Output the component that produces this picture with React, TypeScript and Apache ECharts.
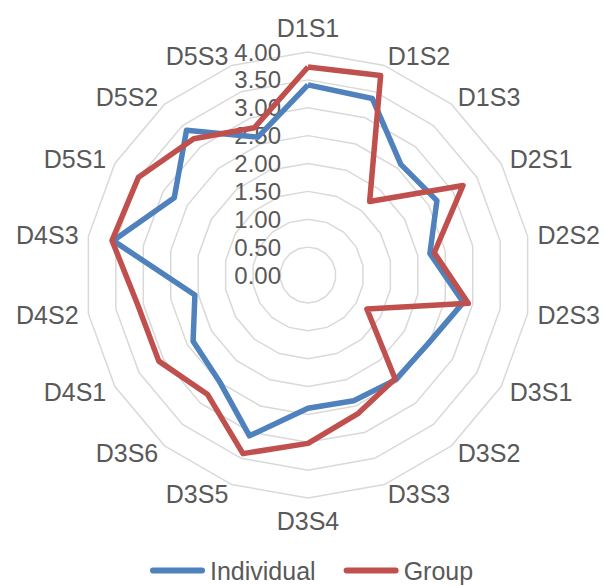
import React, { useEffect, useRef } from "react";
import * as echarts from "echarts";

// Radar axes, listed clockwise from the top
const categories = [
  "D1S1", "D1S2", "D1S3",
  "D2S1", "D2S2", "D2S3",
  "D3S1", "D3S2", "D3S3", "D3S4", "D3S5", "D3S6",
  "D4S1", "D4S2", "D4S3",
  "D5S1", "D5S2", "D5S3",
];

const individual = [
  3.41, 3.37, 2.59,
  2.67, 2.22, 2.83,
  2.48, 2.45, 2.40, 2.39, 3.07, 2.48,
  2.38, 2.06, 3.55,
  2.77, 3.39, 2.63,
];

const group = [
  3.73, 3.81, 1.72,
  3.21, 2.30, 2.92,
  1.22, 2.43, 2.64, 3.02, 3.41, 2.80,
  3.09, 3.10, 3.57,
  3.51, 3.19, 2.81,
];

const scaleMax = 4;
const scaleStep = 0.5;

const TEXT = "#595959";
const FONT = "'Liberation Sans', Arial, sans-serif";

// ECharts lays radar axes out counter-clockwise; keep the first axis on top
// and walk the rest backwards so the chart reads clockwise.
const order = categories.map((_, i) => (i === 0 ? 0 : categories.length - i));
const reorder = (arr: number[]) => order.map((i) => arr[i]);

export default function App() {
  const ref = useRef<HTMLDivElement>(null);

  useEffect(() => {
    if (!ref.current) return;
    const chart = echarts.init(ref.current, null, { renderer: "svg" });

    const indicator = order.map((i, k) => ({
      name: categories[i],
      min: 0,
      max: scaleMax,
      ...(k === 0 ? { axisLabel: { show: true } } : {}),
    }));

    const legendIcon =
      "path://M3,0 L52,0 A3,3 0 0 1 52,6 L3,6 A3,3 0 0 1 3,0 Z";

    chart.setOption({
      animation: false,
      backgroundColor: "#ffffff",
      textStyle: { fontFamily: FONT },
      legend: {
        data: ["Individual", "Group"],
        left: 145,
        top: 553,
        itemWidth: 55,
        itemHeight: 6,
        itemGap: 28,
        icon: legendIcon,
        textStyle: { color: TEXT, fontSize: 25, fontFamily: FONT },
      },
      radar: {
        center: [308, 275],
        radius: 223,
        startAngle: 90,
        shape: "polygon",
        splitNumber: scaleMax / scaleStep,
        nameGap: 10,
        axisName: { color: TEXT, fontSize: 25, fontFamily: FONT },
        axisLine: { show: false },
        axisTick: { show: false },
        splitArea: { show: false },
        splitLine: { lineStyle: { color: "#D9D9D9", width: 1.5 } },
        axisLabel: {
          show: false,
          color: TEXT,
          fontSize: 24,
          fontFamily: FONT,
          margin: 27,
          formatter: (v: number) => v.toFixed(2),
        },
        indicator,
      },
      series: [
        {
          type: "radar",
          symbol: "none",
          data: [
            {
              name: "Individual",
              value: reorder(individual),
              lineStyle: { color: "#4F81BD", width: 5.5, join: "round" },
              itemStyle: { color: "#4F81BD" },
            },
            {
              name: "Group",
              value: reorder(group),
              lineStyle: { color: "#C0504D", width: 5.5, join: "round" },
              itemStyle: { color: "#C0504D" },
            },
          ],
        },
      ],
    });

    return () => chart.dispose();
  }, []);

  return (
    <div
      ref={ref}
      style={{ position: "fixed", left: 0, top: 0, width: 605, height: 586 }}
    />
  );
}
